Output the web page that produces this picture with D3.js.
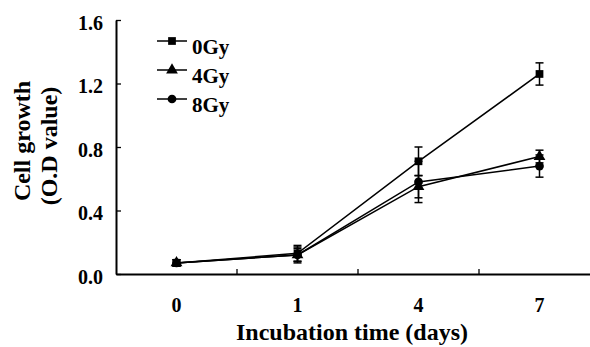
<!DOCTYPE html>
<html>
<head>
<meta charset="utf-8">
<script src="https://cdn.jsdelivr.net/npm/d3@7/dist/d3.min.js"></script>
<style>
  body { margin: 0; background: #fff; }
  text { font-family: "Liberation Serif", "Times New Roman", serif; font-weight: bold; fill: #000; }
</style>
</head>
<body>
<div class="graph"></div>
<script>
const days = ["0", "1", "4", "7"];
const yTicks = [0, 0.4, 0.8, 1.2, 1.6];
const seriesNames = ["0Gy", "4Gy", "8Gy"];
const gy0 = [0.07, 0.13, 0.71, 1.26];
const gy0Err = [0.02, 0.05, 0.09, 0.07];
const gy4 = [0.07, 0.12, 0.55, 0.74];
const gy4Err = [0.02, 0.05, 0.07, 0.04];
const gy8 = [0.07, 0.12, 0.58, 0.68];
const gy8Err = [0.02, 0.04, 0.13, 0.07];

const w = 590;
const h = 347;

const series = [
  { name: seriesNames[0], vals: gy0, err: gy0Err, sym: d3.symbolSquare },
  { name: seriesNames[1], vals: gy4, err: gy4Err, sym: d3.symbolTriangle },
  { name: seriesNames[2], vals: gy8, err: gy8Err, sym: d3.symbolCircle }
];

const xScale = d3.scaleBand()
                 .domain(days)
                 .range([116, 600]);

const yScale = d3.scaleLinear()
                 .domain([0, 1.6])
                 .range([274, 20]);

var svg = d3.select(".graph")
            .append("svg")
            .attr("width", w)
            .attr("height", h);

// y axis
const yAxis = d3.axisLeft(yScale)
                .tickValues(yTicks)
                .tickFormat(d3.format(".1f"))
                .tickSizeInner(-5)
                .tickSizeOuter(0)
                .tickPadding(13);
const gy = svg.append("g")
   .attr("transform", "translate(116,0)")
   .call(yAxis);
gy.select(".domain").attr("stroke", "#000").attr("stroke-width", 2);
gy.selectAll(".tick line").attr("stroke", "#000").attr("stroke-width", 1.3);
gy.selectAll(".tick text").style("font-size", "20px").attr("dy", "0.45em").attr("fill", "#000");

// x axis
const xAxis = d3.axisBottom(xScale).tickSize(0).tickPadding(24);
const gx = svg.append("g")
   .attr("transform", "translate(0,274)")
   .call(xAxis);
gx.select(".domain").attr("stroke", "#000").attr("stroke-width", 2);
gx.selectAll(".tick text").style("font-size", "20px").attr("fill", "#000");
// separator ticks between categories
gx.selectAll(".sep")
  .data(days.slice(1))
  .enter()
  .append("line")
  .attr("x1", d => xScale(d))
  .attr("x2", d => xScale(d))
  .attr("y1", 0)
  .attr("y2", -5)
  .attr("stroke", "#000")
  .attr("stroke-width", 1.3);

const cx = d => xScale(d) + xScale.bandwidth() / 2;

// lines, error bars, markers
const line = d3.line()
               .x((d, i) => cx(days[i]))
               .y(d => yScale(d));

series.forEach(s => {
  svg.append("path")
     .datum(s.vals)
     .attr("d", line)
     .attr("fill", "none")
     .attr("stroke", "#000")
     .attr("stroke-width", 1.5);

  const eb = svg.append("g");
  s.vals.forEach((v, i) => {
    const x = cx(days[i]);
    const top = yScale(v + s.err[i]);
    const bot = yScale(v - s.err[i]);
    eb.append("line").attr("x1", x).attr("x2", x).attr("y1", top).attr("y2", bot)
      .attr("stroke", "#000").attr("stroke-width", 1.5);
    eb.append("line").attr("x1", x - 4).attr("x2", x + 4).attr("y1", top).attr("y2", top)
      .attr("stroke", "#000").attr("stroke-width", 1.5);
    eb.append("line").attr("x1", x - 4).attr("x2", x + 4).attr("y1", bot).attr("y2", bot)
      .attr("stroke", "#000").attr("stroke-width", 1.5);
  });

  svg.selectAll(null)
     .data(s.vals)
     .enter()
     .append("path")
     .attr("d", d3.symbol().type(s.sym).size(60))
     .attr("transform", (d, i) => "translate(" + cx(days[i]) + "," + yScale(d) + ")")
     .attr("fill", "#000");
});

// legend
const legend = svg.append("g");
series.forEach((s, i) => {
  const y = 41 + i * 29;
  legend.append("line")
        .attr("x1", 157).attr("x2", 187).attr("y1", y).attr("y2", y)
        .attr("stroke", "#000").attr("stroke-width", 1.5);
  legend.append("path")
        .attr("d", d3.symbol().type(s.sym).size(60))
        .attr("transform", "translate(172," + y + ")")
        .attr("fill", "#000");
  legend.append("text")
        .attr("x", 192)
        .attr("y", y + 13)
        .style("font-size", "21px")
        .text(s.name);
});

// axis titles
svg.append("text")
   .attr("transform", "rotate(-90)")
   .attr("x", -141)
   .attr("y", 30)
   .attr("text-anchor", "middle")
   .style("font-size", "24px")
   .text("Cell growth");
svg.append("text")
   .attr("transform", "rotate(-90)")
   .attr("x", -146)
   .attr("y", 57)
   .attr("text-anchor", "middle")
   .style("font-size", "24px")
   .text("(O.D value)");

svg.append("text")
   .attr("x", 352)
   .attr("y", 340)
   .attr("text-anchor", "middle")
   .style("font-size", "24px")
   .text("Incubation time (days)");
</script>
</body>
</html>
